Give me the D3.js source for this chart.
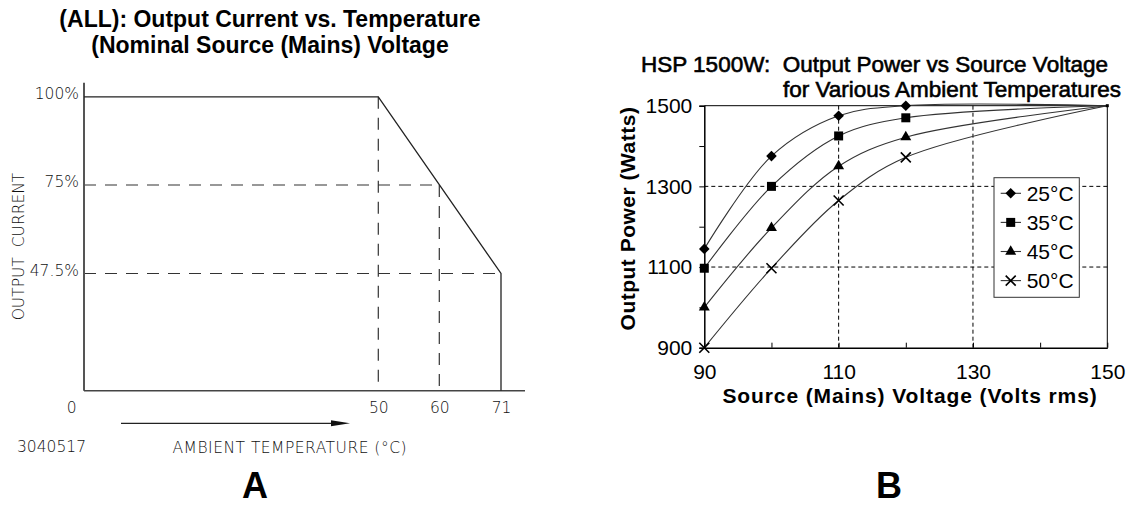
<!DOCTYPE html>
<html>
<head>
<meta charset="utf-8">
<script src="https://cdn.jsdelivr.net/npm/d3@7"></script>
<style>
  body { margin: 0; background: #fff; }
  svg { display: block; }
</style>
</head>
<body>
<script>
// chart A: derating of output current
const tempTicks = [0, 50, 60, 71];
const currentTicks = [47.5, 75, 100];
const deratingTemp = [0, 50, 71, 71];
const deratingCurrent = [100, 100, 47.5, 0];
const guideTemp = [[50, 50], [60, 60], [0, 60], [0, 71]];
const guideCurrent = [[100, 0], [75, 0], [75, 75], [47.5, 47.5]];

// chart B: output power vs source voltage
const voltage = [90, 100, 110, 120, 150];
const ambient = ['25°C', '35°C', '45°C', '50°C'];
const power25 = [1145, 1375, 1475, 1500, 1500];
const power35 = [1097, 1300, 1425, 1470, 1500];
const power45 = [1000, 1197, 1350, 1422, 1500];
const power50 = [900, 1097, 1265, 1372, 1500];
const powerTicks = [900, 1000, 1100, 1200, 1300, 1400, 1500];
const voltTicks = [90, 100, 110, 120, 130, 140, 150];
const powerGrid = [1100, 1300];
const voltGrid = [110, 130];

const width = 1136;
const height = 506;
const sans = 'Liberation Sans, Arial, Helvetica, sans-serif';
const cad = 'DejaVu Sans, Verdana, sans-serif';

const svg = d3.select('body').append('svg')
  .attr('width', width)
  .attr('height', height);

// ---------------- A ----------------
const gA = svg.append('g');

const xA = d3.scaleLinear().domain(tempTicks).range([84, 378.3, 439.3, 501]);
const yA = d3.scaleLinear().domain([0, 47.5, 75, 100]).range([390.7, 273.5, 185, 96.8]);

gA.append('text')
  .attr('x', 270).attr('y', 27)
  .attr('text-anchor', 'middle')
  .attr('font-family', sans).attr('font-weight', 'bold').attr('font-size', 23)
  .text('(ALL): Output Current vs. Temperature');
gA.append('text')
  .attr('x', 270).attr('y', 53)
  .attr('text-anchor', 'middle')
  .attr('font-family', sans).attr('font-weight', 'bold').attr('font-size', 23)
  .text('(Nominal Source (Mains) Voltage');

// dashed guides
guideTemp.forEach((t, i) => {
  gA.append('line')
    .attr('x1', xA(t[0])).attr('y1', yA(guideCurrent[i][0]))
    .attr('x2', xA(t[1])).attr('y2', yA(guideCurrent[i][1]))
    .attr('stroke', '#333').attr('stroke-width', 1.2)
    .attr('stroke-dasharray', '12,9');
});

// axes lines
gA.append('line')
  .attr('x1', xA(0)).attr('y1', yA(0))
  .attr('x2', xA(0)).attr('y2', yA(100) - 14)
  .attr('stroke', '#555').attr('stroke-width', 2);
gA.append('line')
  .attr('x1', xA(0)).attr('y1', yA(0))
  .attr('x2', xA(71) + 24).attr('y2', yA(0))
  .attr('stroke', '#444').attr('stroke-width', 1.6);

// derating profile
const lineA = d3.line()
  .x((d, i) => xA(deratingTemp[i]))
  .y(d => yA(d));
gA.append('path')
  .datum(deratingCurrent)
  .attr('d', lineA)
  .attr('fill', 'none')
  .attr('stroke', '#222')
  .attr('stroke-width', 1.3);

const yAxisA = d3.axisLeft(yA)
  .tickValues(currentTicks)
  .tickSize(0)
  .tickPadding(5)
  .tickFormat(d => d + '%');
gA.append('g')
  .attr('transform', `translate(${xA(0)},0)`)
  .call(yAxisA)
  .call(g => g.select('.domain').remove())
  .call(g => g.selectAll('text')
    .attr('dy', '0.12em')
    .attr('font-family', cad).attr('font-weight', 200).attr('font-size', 15.5)
    .attr('fill', '#111'));

const xAxisA = d3.axisBottom(xA)
  .tickValues(tempTicks)
  .tickSize(0)
  .tickPadding(11)
  .tickFormat(d3.format('d'));
gA.append('g')
  .attr('transform', `translate(0,${yA(0)})`)
  .call(xAxisA)
  .call(g => g.select('.domain').remove())
  .call(g => g.selectAll('text')
    .attr('font-family', cad).attr('font-weight', 200).attr('font-size', 15.5)
    .attr('fill', '#111'))
  .call(g => g.selectAll('.tick').filter(d => d === 0).select('text')
    .attr('text-anchor', 'end').attr('x', -8));

gA.append('text')
  .attr('transform', 'translate(24,246.5) rotate(-90)')
  .attr('text-anchor', 'middle')
  .attr('font-family', cad).attr('font-weight', 200).attr('font-size', 15.5)
  .attr('word-spacing', 5)
  .attr('fill', '#111')
  .text('OUTPUT CURRENT');

// arrow under the temperature axis
gA.append('line')
  .attr('x1', 121).attr('y1', 423.3).attr('x2', 333).attr('y2', 423.3)
  .attr('stroke', '#222').attr('stroke-width', 1.3);
gA.append('path')
  .attr('d', 'M331,420.3 L350,423.3 L331,426.3 Z')
  .attr('fill', '#111');

gA.append('text')
  .attr('x', 17).attr('y', 452)
  .attr('font-family', cad).attr('font-weight', 200).attr('font-size', 15.5)
  .attr('fill', '#111')
  .attr('textLength', 69).attr('lengthAdjust', 'spacing')
  .text('3040517');
gA.append('text')
  .attr('x', 172.5).attr('y', 453)
  .attr('font-family', cad).attr('font-weight', 200).attr('font-size', 15.5)
  .attr('fill', '#111')
  .attr('textLength', 234).attr('lengthAdjust', 'spacing')
  .text('AMBIENT TEMPERATURE (°C)');

gA.append('text')
  .attr('x', 255).attr('y', 498)
  .attr('text-anchor', 'middle')
  .attr('font-family', sans).attr('font-weight', 'bold').attr('font-size', 36)
  .text('A');

// ---------------- B ----------------
const gB = svg.append('g').attr('font-family', sans);

const xB = d3.scaleLinear().domain([90, 150]).range([704.3, 1107.3]);
const yB = d3.scaleLinear().domain([900, 1500]).range([347.7, 105.7]);

gB.append('text')
  .attr('x', 641).attr('y', 72)
  .attr('font-size', 22.5)
  .attr('stroke', '#000').attr('stroke-width', 0.6)
  .style('white-space', 'pre')
  .text('HSP 1500W:  Output Power vs Source Voltage');
gB.append('text')
  .attr('x', 1121).attr('y', 97)
  .attr('text-anchor', 'end')
  .attr('font-size', 22.5)
  .attr('stroke', '#000').attr('stroke-width', 0.6)
  .text('for Various Ambient Temperatures');

// grid
gB.selectAll('.hgrid')
  .data(powerGrid)
  .enter()
  .append('line')
  .attr('class', 'hgrid')
  .attr('x1', xB(90)).attr('x2', xB(150))
  .attr('y1', d => yB(d)).attr('y2', d => yB(d))
  .attr('stroke', '#000').attr('stroke-width', 1)
  .attr('stroke-dasharray', '4,3');
gB.selectAll('.vgrid')
  .data(voltGrid)
  .enter()
  .append('line')
  .attr('class', 'vgrid')
  .attr('x1', d => xB(d)).attr('x2', d => xB(d))
  .attr('y1', yB(900)).attr('y2', yB(1500))
  .attr('stroke', '#000').attr('stroke-width', 1)
  .attr('stroke-dasharray', '4,3');

// plot border top and right
gB.append('path')
  .attr('d', `M${xB(90)},${yB(1500)} H${xB(150)} V${yB(900)}`)
  .attr('fill', 'none')
  .attr('stroke', '#000').attr('stroke-width', 1);

const yAxisB = d3.axisLeft(yB)
  .tickValues(powerTicks)
  .tickSize(5)
  .tickPadding(7)
  .tickFormat(d => (d - 900) % 200 === 0 ? d : '');
gB.append('g')
  .attr('transform', `translate(${xB(90)},0)`)
  .call(yAxisB)
  .call(g => g.select('.domain').attr('stroke-width', 1.5))
  .call(g => g.selectAll('text').attr('font-family', sans).attr('font-size', 21).attr('fill', '#000'));

const xAxisB = d3.axisBottom(xB)
  .tickValues(voltTicks)
  .tickSizeInner(-5)
  .tickSizeOuter(0)
  .tickPadding(16)
  .tickFormat(d => (d - 90) % 20 === 0 ? d : '');
gB.append('g')
  .attr('transform', `translate(0,${yB(900)})`)
  .call(xAxisB)
  .call(g => g.select('.domain').attr('stroke-width', 1.5))
  .call(g => g.selectAll('text').attr('font-family', sans).attr('font-size', 21).attr('fill', '#000'));

gB.append('text')
  .attr('x', 910).attr('y', 403)
  .attr('text-anchor', 'middle')
  .attr('font-weight', 'bold').attr('font-size', 21)
  .attr('letter-spacing', 0.9)
  .text('Source (Mains) Voltage (Volts rms)');
gB.append('text')
  .attr('transform', 'translate(635,218.5) rotate(-90)')
  .attr('text-anchor', 'middle')
  .attr('font-weight', 'bold').attr('font-size', 21)
  .attr('letter-spacing', 0.5)
  .text('Output Power (Watts)');

// series
const series = [power25, power35, power45, power50];
const symDiamond = {
  draw(c, s) {
    const r = Math.sqrt(s / 2);
    c.moveTo(0, -r); c.lineTo(r, 0); c.lineTo(0, r); c.lineTo(-r, 0); c.closePath();
  }
};
const symCross = {
  draw(c, s) {
    const r = Math.sqrt(s) / 2;
    c.moveTo(-r, -r); c.lineTo(r, r); c.moveTo(r, -r); c.lineTo(-r, r);
  }
};
const markers = [
  { type: symDiamond, size: 56, fill: '#000', stroke: 'none' },
  { type: d3.symbolSquare, size: 81, fill: '#000', stroke: 'none' },
  { type: d3.symbolTriangle, size: 52, fill: '#000', stroke: 'none' },
  { type: symCross, size: 100, fill: 'none', stroke: '#000' }
];

const lineB = d3.line()
  .x((d, i) => xB(voltage[i]))
  .y(d => yB(d))
  .curve(d3.curveCatmullRom.alpha(0.5));

series.forEach(s => {
  gB.append('path')
    .datum(s)
    .attr('d', lineB)
    .attr('fill', 'none')
    .attr('stroke', '#333')
    .attr('stroke-width', 1.1);
});

series.forEach((s, k) => {
  const m = markers[k];
  gB.selectAll('.m' + k)
    .data(s.slice(0, voltage.length - 1))
    .enter()
    .append('path')
    .attr('class', 'm' + k)
    .attr('transform', (d, i) => `translate(${xB(voltage[i])},${yB(d)})`)
    .attr('d', d3.symbol().type(m.type).size(m.size))
    .attr('fill', m.fill)
    .attr('stroke', m.stroke)
    .attr('stroke-width', 1.6);
});

// end point
gB.append('rect')
  .attr('x', xB(150) - 1.5).attr('y', yB(1500) - 1.5)
  .attr('width', 3).attr('height', 3)
  .attr('fill', '#000');

// legend
const legend = gB.append('g').attr('transform', 'translate(994,177.7)');
legend.append('rect')
  .attr('width', 85.3).attr('height', 119.6)
  .attr('fill', '#fff')
  .attr('stroke', '#333').attr('stroke-width', 1);
const item = legend.selectAll('.item')
  .data(ambient)
  .enter()
  .append('g')
  .attr('class', 'item')
  .attr('transform', (d, i) => `translate(0,${15.6 + i * 29.1})`);
item.append('line')
  .attr('x1', 6.7).attr('x2', 27)
  .attr('stroke', '#333').attr('stroke-width', 1.1);
item.append('path')
  .attr('transform', 'translate(16.7,0)')
  .attr('d', (d, i) => d3.symbol().type(markers[i].type).size(markers[i].size)())
  .attr('fill', (d, i) => markers[i].fill)
  .attr('stroke', (d, i) => markers[i].stroke)
  .attr('stroke-width', 1.6);
item.append('text')
  .attr('x', 32.7)
  .attr('dy', '0.36em')
  .attr('font-size', 21)
  .text(d => d);

gB.append('text')
  .attr('x', 889).attr('y', 498)
  .attr('text-anchor', 'middle')
  .attr('font-weight', 'bold').attr('font-size', 36)
  .text('B');
</script>
</body>
</html>
